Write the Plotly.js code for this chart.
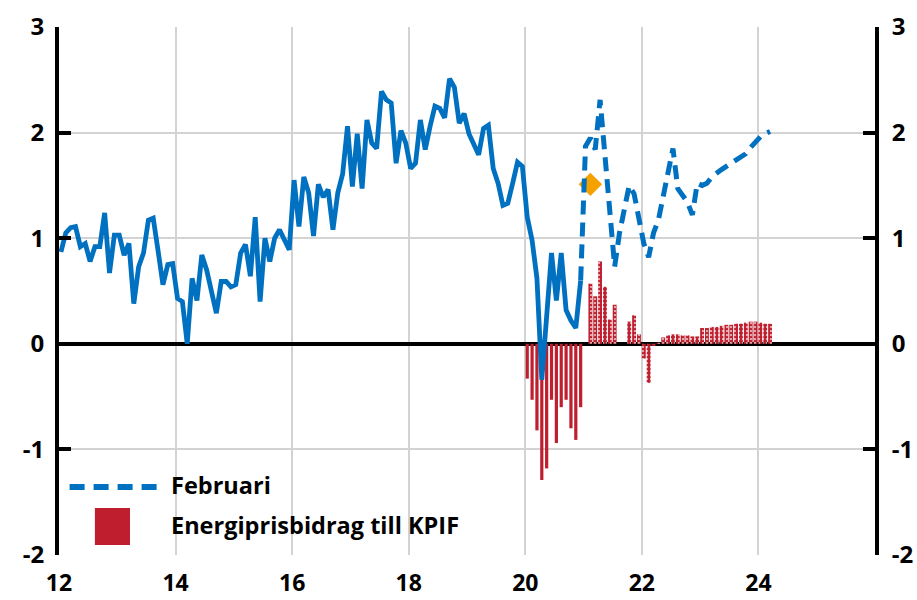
<!DOCTYPE html>
<html>
<head>
<meta charset="utf-8">
<script src="https://cdn.plot.ly/plotly-3.0.1.min.js"></script>
<style>
  html, body { margin: 0; padding: 0; background: #ffffff; }
  #chart { width: 917px; height: 600px; }
</style>
</head>
<body>
<div id="chart"></div>
<script>
// ---- Data ----
// KPIF-like outcome, monthly from Jan 2012 to Dec 2020
var outcomeStart = "2012-01";
var outcomeValues = [
  0.87, 1.05, 1.10, 1.11, 0.92, 0.95, 0.78, 0.92, 0.92, 1.24, 0.67, 1.03,
  1.03, 0.84, 0.95, 0.38, 0.73, 0.86, 1.17, 1.19, 0.88, 0.56, 0.75, 0.76,
  0.43, 0.40, 0.00, 0.62, 0.41, 0.84, 0.70, 0.50, 0.29, 0.59, 0.59, 0.54,
  0.56, 0.86, 0.94, 0.64, 1.20, 0.40, 1.00, 0.78, 1.00, 1.08, 0.98, 0.89,
  1.55, 1.11, 1.58, 1.43, 1.02, 1.51, 1.39, 1.46, 1.08, 1.43, 1.61, 2.06,
  1.49, 1.99, 1.47, 2.12, 1.90, 1.85, 2.39, 2.31, 2.28, 1.71, 2.02, 1.90,
  1.66, 1.71, 2.12, 1.84, 2.06, 2.25, 2.23, 2.14, 2.51, 2.43, 2.09, 2.18,
  1.99, 1.90, 1.79, 2.04, 2.07, 1.66, 1.52, 1.31, 1.33, 1.52, 1.72, 1.68,
  1.20, 0.98, 0.62, -0.34, 0.30, 0.86, 0.41, 0.86, 0.32, 0.22, 0.15, 0.60
];

// "Februari" forecast, monthly from Dec 2020 to Mar 2024
var forecastStart = "2020-12";
var forecastValues = [
  0.60, 1.87, 1.95, 1.84, 2.31, 1.80, 1.28, 0.73, 1.05, 1.28, 1.50, 1.42,
  1.20, 0.95, 0.82, 1.05, 1.17, 1.40, 1.58, 1.85, 1.47, 1.40, 1.34, 1.22,
  1.52, 1.50, 1.52, 1.58, 1.62, 1.65, 1.68, 1.71, 1.74, 1.76, 1.80, 1.86,
  1.91, 1.96, 1.99, 2.01
];

// Energy price contribution to KPIF, outcome (Jan 2020 - Dec 2020)
var energyOutcomeStart = "2020-01";
var energyOutcomeValues = [
  -0.33, -0.53, -0.82, -1.29, -1.18, -0.53, -0.94, -0.60, -0.53, -0.80, -0.91, -0.60
];

// Energy price contribution to KPIF, forecast (Jan 2021 - Mar 2024)
var energyForecastStart = "2021-01";
var energyForecastValues = [
  0.00, 0.57, 0.45, 0.78, 0.54, 0.23, 0.37, 0.00, 0.00, 0.21, 0.27, 0.09,
  -0.14, -0.37, -0.02, 0.01, 0.06, 0.08, 0.09, 0.09, 0.08, 0.08, 0.07, 0.07,
  0.15, 0.15, 0.16, 0.16, 0.17, 0.18, 0.18, 0.19, 0.19, 0.20, 0.21, 0.21,
  0.20, 0.19, 0.19
];

// Single marked point (orange diamond), Feb 2021
var markerMonth = ["2021-02"];
var markerValue = [1.51];

// Axis ticks
var xTickVals = [12, 14, 16, 18, 20, 22, 24];
var xTickText = ["12", "14", "16", "18", "20", "22", "24"];
var yTickVals = [-2, -1, 0, 1, 2, 3];
var yTickText = ["-2", "-1", "0", "1", "2", "3"];

var legendNames = ["Februari", "Energiprisbidrag till KPIF"];

// ---- helpers ----
function monthToX(ym) {
  var p = ym.split("-");
  var yy = parseInt(p[0], 10) - 2000;
  var mm = parseInt(p[1], 10);
  return yy + (mm - 0.6) / 12;
}
function monthSeries(start, n) {
  var p = start.split("-");
  var y = parseInt(p[0], 10), m = parseInt(p[1], 10);
  var out = [];
  for (var i = 0; i < n; i++) {
    var mm = m + i;
    var yy = y + Math.floor((mm - 1) / 12);
    var mo = ((mm - 1) % 12) + 1;
    out.push(monthToX(yy + "-" + (mo < 10 ? "0" + mo : mo)));
  }
  return out;
}

var BLUE = "#0070C0";
var RED = "#BE1E2D";
var ORANGE = "#F5A200";
var FONT = "'Open Sans', 'Noto Sans', sans-serif";

var traces = [
  {
    type: "bar",
    x: monthSeries(energyOutcomeStart, energyOutcomeValues.length),
    y: energyOutcomeValues,
    width: 0.66 / 12,
    marker: { color: RED, line: { width: 0 } },
    showlegend: false,
    hoverinfo: "skip"
  },
  {
    type: "bar",
    x: monthSeries(energyForecastStart, energyForecastValues.length),
    y: energyForecastValues,
    width: 0.8 / 12,
    marker: {
      color: "#ffffff",
      line: { width: 0 },
      pattern: { shape: ".", fgcolor: RED, bgcolor: "#ffffff", size: 4, solidity: 0.8, fillmode: "replace" }
    },
    showlegend: false,
    hoverinfo: "skip"
  },
  {
    type: "scatter",
    mode: "markers",
    x: markerMonth.map(monthToX),
    y: markerValue,
    marker: { symbol: "diamond", size: 18, color: ORANGE, line: { width: 0 } },
    showlegend: false,
    hoverinfo: "skip"
  },
  {
    type: "scatter",
    mode: "lines",
    x: monthSeries(outcomeStart, outcomeValues.length),
    y: outcomeValues,
    line: { color: BLUE, width: 4.8 },
    showlegend: false,
    hoverinfo: "skip"
  },
  {
    type: "scatter",
    mode: "lines",
    name: legendNames[0],
    x: monthSeries(forecastStart, forecastValues.length),
    y: forecastValues,
    line: { color: BLUE, width: 5, dash: "14px,8px" },
    showlegend: false,
    hoverinfo: "skip"
  },
  {
    type: "scatter",
    mode: "lines",
    x: [12],
    y: [null],
    yaxis: "y2",
    showlegend: false,
    hoverinfo: "skip"
  }
];

var tickFont = { family: FONT, size: 24, color: "#000000", weight: "bold" };
var legendFont = { family: FONT, size: 23.5, color: "#000000", weight: "bold" };

var layout = {
  width: 917,
  height: 600,
  margin: { l: 59, r: 42, t: 27, b: 45, pad: 0 },
  paper_bgcolor: "#ffffff",
  plot_bgcolor: "#ffffff",
  showlegend: false,
  barmode: "overlay",
  xaxis: {
    range: [12, 26],
    tickmode: "array",
    tickvals: xTickVals,
    ticktext: xTickText,
    ticks: "",
    showline: false,
    zeroline: false,
    showgrid: true,
    gridcolor: "#D3D3D3",
    gridwidth: 2,
    tickfont: { family: FONT, size: 23, color: "#000000", weight: "bold" },
    ticklabelstandoff: 12
  },
  yaxis: {
    range: [-2, 3],
    tickmode: "array",
    tickvals: yTickVals,
    ticktext: yTickText,
    ticks: "inside",
    ticklen: 12,
    tickwidth: 4,
    tickcolor: "#000000",
    showline: true,
    linecolor: "#000000",
    linewidth: 4,
    showgrid: true,
    gridcolor: "#D3D3D3",
    gridwidth: 2,
    zeroline: true,
    zerolinecolor: "#000000",
    zerolinewidth: 4,
    tickfont: tickFont,
    ticklabelstandoff: 6
  },
  yaxis2: {
    overlaying: "y",
    side: "right",
    range: [-2, 3],
    tickmode: "array",
    tickvals: yTickVals,
    ticktext: yTickText,
    ticks: "inside",
    ticklen: 12,
    tickwidth: 4,
    tickcolor: "#000000",
    showline: true,
    linecolor: "#000000",
    linewidth: 4,
    showgrid: false,
    zeroline: false,
    tickfont: tickFont,
    ticklabelstandoff: 8
  },
  shapes: [
    // legend sample: dashed blue line
    { type: "line", xref: "paper", yref: "paper", x0: 0.013, x1: 0.121, y0: 0.129, y1: 0.129,
      line: { color: BLUE, width: 6, dash: "15px,9px" } },
    // legend sample: red box
    { type: "rect", xref: "paper", yref: "paper", x0: 0.044, x1: 0.087, y0: 0.019, y1: 0.089,
      line: { width: 0 }, fillcolor: RED }
  ],
  annotations: [
    { xref: "paper", yref: "paper", x: 0.135, y: 0.133, xanchor: "left", yanchor: "middle",
      text: legendNames[0], showarrow: false, font: legendFont },
    { xref: "paper", yref: "paper", x: 0.135, y: 0.057, xanchor: "left", yanchor: "middle",
      text: legendNames[1], showarrow: false, font: legendFont }
  ]
};

Plotly.newPlot("chart", traces, layout, { staticPlot: true, displayModeBar: false });
</script>
</body>
</html>
